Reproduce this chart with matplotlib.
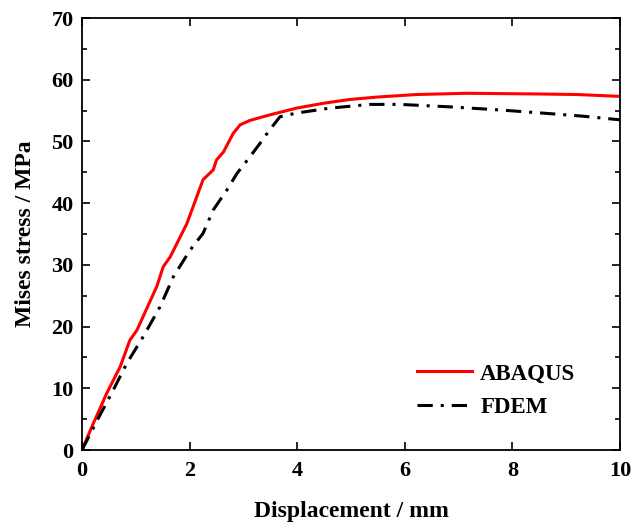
import matplotlib
matplotlib.use("Agg")
import matplotlib.pyplot as plt
from matplotlib.ticker import MultipleLocator

plt.rcParams['font.family'] = ['Liberation Serif', 'DejaVu Serif']
plt.rcParams['font.weight'] = 'bold'

abaqus_x = [0, 0.21, 0.46, 0.71, 0.89, 1.02, 1.39, 1.51, 1.64, 1.95, 2.25, 2.44, 2.50, 2.63,
            2.81, 2.94, 3.12, 3.49, 3.99, 4.5, 4.98, 5.5, 6.22, 7.15, 8.38, 9.2, 10.0]
abaqus_y = [0, 4.3, 9.2, 13.5, 17.8, 19.4, 26.5, 29.7, 31.3, 36.7, 43.8, 45.4, 47.0, 48.3,
            51.3, 52.7, 53.4, 54.3, 55.4, 56.2, 56.8, 57.2, 57.6, 57.8, 57.7, 57.6, 57.3]

fdem_x = [0, 0.27, 0.58, 0.83, 1.14, 1.45, 1.70, 2.01, 2.25, 2.44, 2.69, 2.88, 3.12, 3.31,
          3.49, 3.68, 3.99, 4.61, 5.35, 5.91, 6.84, 7.77, 8.70, 9.3, 10.0]
fdem_y = [0, 4.6, 9.7, 14.0, 18.4, 23.2, 28.1, 32.4, 35.1, 38.9, 42.1, 44.8, 47.5, 49.7,
          51.9, 54.0, 54.6, 55.4, 56.0, 56.0, 55.6, 55.1, 54.5, 54.1, 53.5]

fig = plt.figure(figsize=(6.44, 5.28), dpi=100)
ax = fig.add_axes([82/644, 1 - 450/528, (620-82)/644, (450-18)/528])

ax.plot(abaqus_x, abaqus_y, color='#ff0000', lw=2.2, label='ABAQUS')
ax.plot(fdem_x, fdem_y, color='black', lw=2.2, linestyle=(0, (5, 2.6, 1, 2.6)), label='FDEM')

ax.set_xlim(0, 10)
ax.set_ylim(0, 70)
ax.xaxis.set_major_locator(MultipleLocator(2))
ax.yaxis.set_major_locator(MultipleLocator(10))
ax.yaxis.set_minor_locator(MultipleLocator(5))
ax.tick_params(which='both', direction='in', top=True, right=True, labelsize=16, width=1.2)
ax.tick_params(which='major', length=6)
ax.tick_params(which='minor', length=3.5)
ax.tick_params(axis='x', which='major', pad=8)
ax.tick_params(axis='y', which='major', pad=6)
for s in ax.spines.values():
    s.set_linewidth(1.3)
for lab in ax.get_xticklabels() + ax.get_yticklabels():
    lab.set_fontweight('bold')

ax.set_xlabel('Displacement / mm', fontsize=17, fontweight='bold', labelpad=14)
ax.set_ylabel('Mises stress / MPa', fontsize=17, fontweight='bold', labelpad=11)

leg = ax.legend(loc='center left', bbox_to_anchor=(0.623, 0.137), frameon=False,
                prop={'size': 16.5, 'weight': 'bold'}, handlelength=2.4, handletextpad=0.35,
                labelspacing=0.55, borderpad=0, borderaxespad=0)

fig.savefig('out.png', dpi=100)
